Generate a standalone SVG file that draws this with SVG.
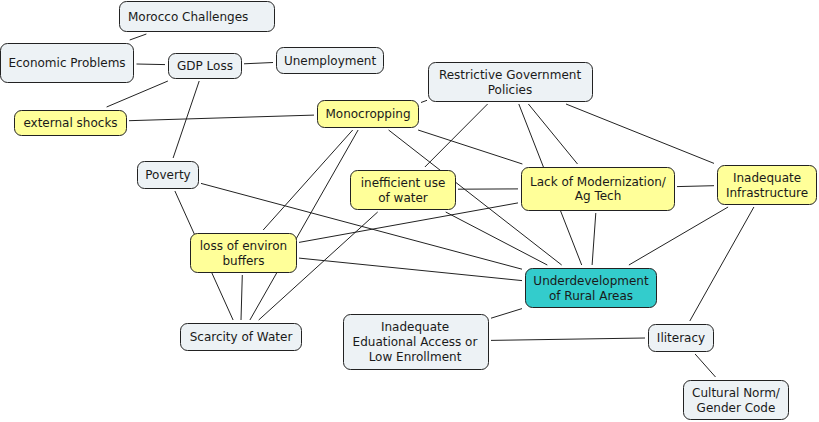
<svg xmlns="http://www.w3.org/2000/svg" width="819" height="422" viewBox="0 0 819 422">
<style>
.n rect{stroke:#222;stroke-width:1;rx:7;ry:7}
.g rect{fill:#edf2f5}
.y rect{fill:#ffff99}
.t rect{fill:#33cccc}
text{font-family:"DejaVu Sans",Verdana,sans-serif;font-size:12px;fill:#1a1a1a;text-anchor:middle}
#edges line{stroke:#222;stroke-width:1}
</style>
<rect width="819" height="422" fill="#fff"/>
<g id="edges">
<line x1="146.4" y1="34" x2="129.7" y2="40"/>
<line x1="136.5" y1="64" x2="165" y2="64.6"/>
<line x1="244" y1="63.8" x2="273" y2="62.5"/>
<line x1="167.9" y1="81" x2="106.6" y2="107"/>
<line x1="199.2" y1="81" x2="173.1" y2="158"/>
<line x1="129" y1="120.7" x2="314" y2="115.1"/>
<line x1="421" y1="102.5" x2="427" y2="100.3"/>
<line x1="418.1" y1="130" x2="522.4" y2="164"/>
<line x1="388.6" y1="130" x2="561.7" y2="265"/>
<line x1="352.7" y1="130" x2="263.2" y2="230"/>
<line x1="358.1" y1="130" x2="249.9" y2="320"/>
<line x1="487.6" y1="104" x2="424.9" y2="167"/>
<line x1="528.4" y1="104" x2="577.5" y2="164"/>
<line x1="518.8" y1="104" x2="581.7" y2="265"/>
<line x1="566" y1="104" x2="714" y2="163.4"/>
<line x1="458" y1="189.2" x2="518" y2="188.9"/>
<line x1="377.7" y1="212" x2="258.7" y2="320"/>
<line x1="445.7" y1="212" x2="547.3" y2="265"/>
<line x1="518" y1="202.9" x2="299" y2="242.4"/>
<line x1="677" y1="186.6" x2="714" y2="185.7"/>
<line x1="595.8" y1="213" x2="592.1" y2="265"/>
<line x1="728.1" y1="207" x2="628.9" y2="265"/>
<line x1="753.9" y1="207" x2="689.8" y2="321"/>
<line x1="174.9" y1="191" x2="233.1" y2="320"/>
<line x1="201" y1="183.4" x2="522" y2="269.2"/>
<line x1="242.3" y1="275" x2="241" y2="320"/>
<line x1="299" y1="258.1" x2="522" y2="280.6"/>
<line x1="491" y1="318.2" x2="522" y2="308.6"/>
<line x1="491" y1="340.4" x2="645" y2="338"/>
<line x1="695.1" y1="354" x2="715.5" y2="377"/>
</g>
<g id="morocco-challenges" class="n g"><rect x="119.5" y="1.5" width="155" height="30"/><text x="128" y="20.5" style="text-anchor:start">Morocco Challenges</text></g>
<g id="economic-problems" class="n g"><rect x="0.5" y="43.5" width="133" height="39"/><text x="67" y="67">Economic Problems</text></g>
<g id="gdp-loss" class="n g"><rect x="168.5" y="53.5" width="73" height="25"/><text x="205" y="70">GDP Loss</text></g>
<g id="unemployment" class="n g"><rect x="276.5" y="47.5" width="107" height="26"/><text x="330" y="64.5">Unemployment</text></g>
<g id="external-shocks" class="n y"><rect x="14.5" y="110.5" width="112" height="25"/><text x="70.5" y="127">external shocks</text></g>
<g id="restrictive-policies" class="n g"><rect x="428.5" y="62.5" width="164" height="39"/><text x="510" y="78.5">Restrictive Government</text><text x="510" y="93.5">Policies</text></g>
<g id="monocropping" class="n y"><rect x="317.5" y="100.5" width="101" height="27"/><text x="368" y="118">Monocropping</text></g>
<g id="poverty" class="n g"><rect x="137.5" y="161.5" width="61" height="27"/><text x="168" y="179">Poverty</text></g>
<g id="inefficient-water" class="n y"><rect x="350.5" y="170.5" width="105" height="39"/><text x="403" y="186.5">inefficient use</text><text x="403" y="201.5">of water</text></g>
<g id="loss-buffers" class="n y"><rect x="190.5" y="233.5" width="106" height="39"/><text x="243.5" y="249.5">loss of environ</text><text x="243.5" y="264.5">buffers</text></g>
<g id="lack-modernization" class="n y"><rect x="521.5" y="167.5" width="153" height="43"/><text x="598" y="185.5">Lack of Modernization/</text><text x="598" y="200">Ag Tech</text></g>
<g id="infrastructure" class="n y"><rect x="717.5" y="165.5" width="99" height="39"/><text x="767" y="181.5">Inadequate</text><text x="767" y="196.5">Infrastructure</text></g>
<g id="underdevelopment" class="n t"><rect x="525.5" y="268.5" width="131" height="39"/><text x="591" y="284.5">Underdevelopment</text><text x="591" y="299.5">of Rural Areas</text></g>
<g id="scarcity-water" class="n g"><rect x="180.5" y="323.5" width="121" height="27"/><text x="241" y="341">Scarcity of Water</text></g>
<g id="educational-access" class="n g"><rect x="343.5" y="314.5" width="145" height="55"/><text x="415" y="330.5">Inadequate</text><text x="415" y="345.5">Eduational Access or</text><text x="415" y="360.5">Low Enrollment</text></g>
<g id="iliteracy" class="n g"><rect x="648.5" y="324.5" width="65" height="27"/><text x="681" y="342">Iliteracy</text></g>
<g id="cultural-norm" class="n g"><rect x="683.5" y="380.5" width="105" height="39"/><text x="736" y="396.5">Cultural Norm/</text><text x="736" y="411.5">Gender Code</text></g>
</svg>
